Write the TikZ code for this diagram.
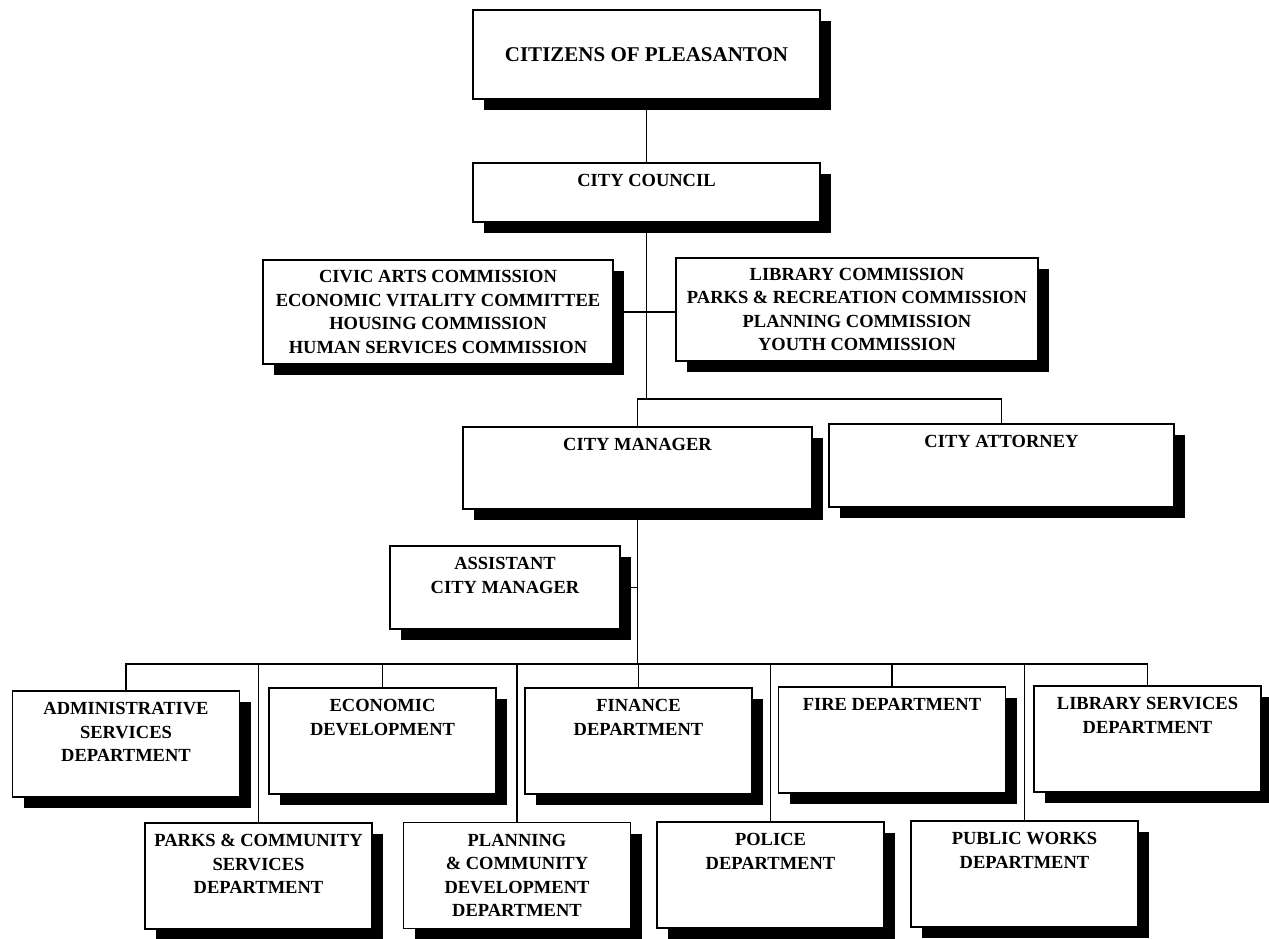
\documentclass[tikz,border=0pt]{standalone}
\usepackage{fontspec}
\setmainfont{Liberation Serif}
\usetikzlibrary{shadows}
\tikzset{orgfont/.style = {font=\fontsize{18.5pt}{23.5pt}\selectfont\bfseries}}
\tikzset{orgbox/.style = {draw, fill=white, line width=1.8pt, inner sep=2pt, align=center, orgfont,
                          drop shadow={shadow xshift=11pt, shadow yshift=-11pt, fill=black, opacity=1}}}
\tikzset{toptext/.style = {anchor=north, align=center, inner sep=0pt, yshift=-12pt, orgfont}}
\tikzset{toplabel/.style = {label={[toptext]north:#1}}}
\tikzset{link/.style = {draw, line width=1.7pt}}

\begin{document}
\begin{tikzpicture}[x=1pt, y=-1pt]
    \useasboundingbox [fill=white] (0, 0) rectangle (1269, 938);

    \node [orgbox, minimum width=347pt, minimum height=89pt, font=\fontsize{21pt}{25pt}\selectfont\bfseries] (cit) at (646.5, 54.5) {CITIZENS OF PLEASANTON};
    \node [orgbox, minimum width=347pt, minimum height=59pt, toplabel={CITY COUNCIL}] (council) at (646.5, 192.5) {};

    \node [orgbox, minimum width=350pt, minimum height=104pt] (comL) at (438, 312) {CIVIC ARTS COMMISSION\\ECONOMIC VITALITY COMMITTEE\\HOUSING COMMISSION\\HUMAN SERVICES COMMISSION};
    \node [orgbox, minimum width=362pt, minimum height=103pt] (comR) at (857, 309.5) {LIBRARY COMMISSION\\PARKS \& RECREATION COMMISSION\\PLANNING COMMISSION\\YOUTH COMMISSION};

    \node [orgbox, minimum width=349pt, minimum height=82pt, toplabel={CITY MANAGER}] (mgr) at (637.5, 468) {};
    \node [orgbox, minimum width=345pt, minimum height=83pt, toplabel={CITY ATTORNEY}] (atty) at (1001.5, 465.5) {};
    \node [orgbox, minimum width=230pt, minimum height=83pt, toplabel={ASSISTANT\\CITY MANAGER}] (asst) at (505, 587.5) {};

    \foreach \n/\x/\y/\t in {admin/126/744/{ADMINISTRATIVE\\SERVICES\\DEPARTMENT},
                             econ/382.5/741/{ECONOMIC\\DEVELOPMENT},
                             fin/638.5/741/{FINANCE\\DEPARTMENT},
                             fire/892/740/{FIRE DEPARTMENT},
                             lib/1147.5/739/{LIBRARY SERVICES\\DEPARTMENT},
                             parks/258.5/876/{PARKS \& COMMUNITY\\SERVICES\\DEPARTMENT},
                             plan/517/875.5/{PLANNING\\\& COMMUNITY\\DEVELOPMENT\\DEPARTMENT},
                             police/770.5/875/{POLICE\\DEPARTMENT},
                             pw/1024.5/874/{PUBLIC WORKS\\DEPARTMENT}} {
      \node [orgbox, minimum width=227pt, minimum height=106pt, toplabel={\t}] (\n) at (\x, \y) {};
    }

    \coordinate (upperbar) at (637.5, 399);
    \coordinate (lowerbar) at (637.5, 664);

    \path [link] (cit.south) -- (council.north);
    \path [link] (council.south) -- (council.south |- upperbar);
    \path [link] (comL.east) -- (comL.east -| comR.west);
    \path [link] (mgr.north) -- (upperbar) -| (atty.north);
    \path [link] (mgr.south) -- (lowerbar);
    \path [link] (asst.east) -- (asst.east -| mgr.south);
    \path [link] (admin.north) -- (admin.north |- lowerbar) -- (lib.north |- lowerbar) -- (lib.north);
    \foreach \n in {econ, fin, fire, parks, plan, police, pw} {
      \path [link] (\n.north) -- (\n.north |- lowerbar);
    }
  \end{tikzpicture}
\end{document}
